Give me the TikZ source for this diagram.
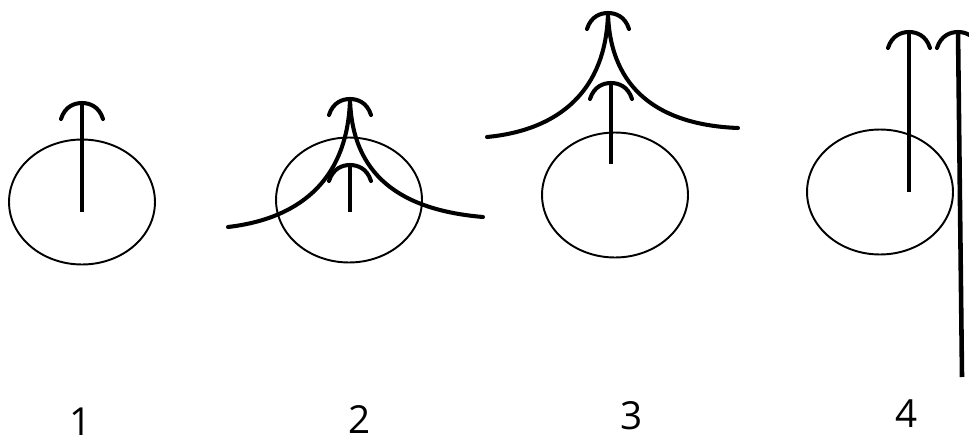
\documentclass[tikz,border=0pt]{standalone}
\usepackage{fontspec}
\setmainfont{Open Sans}
\usetikzlibrary{shapes.geometric}
\tikzset{
  oval/.style={draw, ellipse, line width=1.1pt, inner sep=0pt, minimum width=2.92cm, minimum height=2.5cm},
  vec/.style={line width=2.6pt},
  cusp/.style={line width=2.3pt, line cap=round},
  num/.style={font=\fontsize{22pt}{24pt}\selectfont, inner sep=0pt},
  barb/.pic={\draw[line width=2.3pt, line cap=round] (-21,16) .. controls (-17,3) and (-7,0) .. (0,0) .. controls (7,0) and (17,3) .. (21,16);},
}
\begin{document}
\begin{tikzpicture}[x=0.02cm, y=-0.02cm]
			\useasboundingbox (0,0) rectangle (969,439);

			% Эллипсы
			\node[oval] (e1) at (82,202) {};
			\node[oval] (e2) at (349,200) {};
			\node[oval] (e3) at (615,195) {};
			\node[oval] (e4) at (880,192) {};

			% Точки
			\coordinate (a1) at (82,212);  \coordinate (t1) at (82,103);
			\coordinate (a2) at (350,212); \coordinate (t2) at (350,165);
			\coordinate (a3) at (611,164); \coordinate (t3) at (611,83);
			\coordinate (a4) at (909,192); \coordinate (t4) at (909,32);
			\coordinate (b4) at (962,377); \coordinate (s4) at (958,32);
			\coordinate (l2) at (228,227); \coordinate (c2) at (350,99); \coordinate (r2) at (483,217);
			\coordinate (l3) at (487,137); \coordinate (c3) at (608,13); \coordinate (r3) at (738,128);

			% Стрелки
			\draw[vec] (a1) -- (t1);
			\draw[vec] (a2) -- (t2);
			\draw[vec] (a3) -- (t3);
			\draw[vec] (a4) -- (t4);
			\draw[vec] (b4) -- (s4);

			% Волны
			\draw[cusp] (l2) .. controls (305,218) and (348,175) .. (c2);
			\draw[cusp] (c2) .. controls (352,175) and (400,210) .. (r2);
			\draw[cusp] (l3) .. controls (560,130) and (606,90) .. (c3);
			\draw[cusp] (c3) .. controls (610,90) and (660,125) .. (r3);

			% Наконечники
			\foreach \t in {t1,t2,t3,t4,s4,c2,c3}
					\pic at (\t) {barb};

			% Номера
			\foreach \n/\x/\y in {1/81/422, 2/360/419, 3/632/416, 4/907/414}
					\node[num] (lab\n) at (\x,\y) {\n};
		\end{tikzpicture}
\end{document}
